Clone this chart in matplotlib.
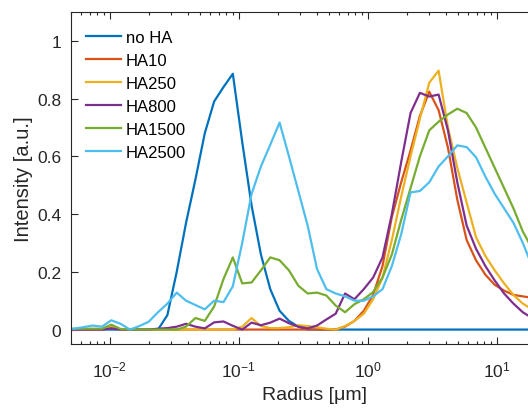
import matplotlib
matplotlib.use("Agg")
import matplotlib.pyplot as plt
from matplotlib.ticker import LogLocator, NullFormatter

plt.rcParams['font.family'] = ['Liberation Sans', 'DejaVu Sans']
plt.rcParams['mathtext.fontset'] = 'custom'
plt.rcParams['mathtext.rm'] = 'Liberation Sans'
plt.rcParams['mathtext.it'] = 'Liberation Sans'

# size classes (radius in um), shared by every sample
radius = [0.00445, 0.00526, 0.00621, 0.00735, 0.00868, 0.01026, 0.01212, 0.01432, 0.01692, 0.0200,
          0.02363, 0.02793, 0.0330, 0.03899, 0.04607, 0.05445, 0.06434, 0.07603, 0.08983, 0.1062,
          0.1255, 0.1483, 0.1752, 0.2070, 0.2446, 0.2891, 0.3416, 0.4036, 0.4770, 0.5636,
          0.6660, 0.7870, 0.9300, 1.099, 1.299, 1.535, 1.813, 2.143, 2.532, 2.992,
          3.536, 4.178, 4.937, 5.834, 6.894, 8.147, 9.627, 11.38, 13.44, 15.89,
          18.77]

no_ha = [0, 0, 0, 0, 0, 0, 0, 0, 0, 0,
         0, 0.05, 0.2, 0.37, 0.52, 0.68, 0.79, 0.84, 0.886, 0.65,
         0.43, 0.26, 0.14, 0.065, 0.03, 0.01, 0, 0, 0, 0,
         0, 0, 0, 0, 0, 0, 0, 0, 0, 0,
         0, 0, 0, 0, 0, 0, 0, 0, 0, 0,
         0]
ha10 = [0, 0, 0, 0, 0, 0.008, 0, 0, 0, 0,
        0, 0, 0, 0, 0, 0, 0, 0, 0, 0,
        0, 0, 0, 0, 0, 0, 0, 0, 0, 0,
        0.01, 0.03, 0.065, 0.12, 0.22, 0.39, 0.51, 0.62, 0.74, 0.824,
        0.76, 0.63, 0.45, 0.31, 0.24, 0.19, 0.155, 0.135, 0.12, 0.115,
        0.11]
ha250 = [0, 0, 0, 0, 0, 0.012, 0, 0, 0, 0,
         0, 0, 0, 0, 0, 0, 0, 0, 0, 0.01,
         0.04, 0.012, 0.005, 0.005, 0.008, 0.015, 0.012, 0.008, 0.003, 0,
         0.012, 0.03, 0.055, 0.105, 0.18, 0.31, 0.46, 0.60, 0.73, 0.855,
         0.897, 0.70, 0.56, 0.44, 0.32, 0.255, 0.205, 0.16, 0.12, 0.09,
         0.07]
ha800 = [0, 0, 0, 0, 0, 0.004, 0, 0, 0, 0,
         0.003, 0.005, 0.01, 0.02, 0.01, 0.004, 0.025, 0.028, 0.013, 0,
         0.024, 0.015, 0.024, 0.038, 0.022, 0.01, 0.004, 0.014, 0.035, 0.055,
         0.125, 0.105, 0.14, 0.18, 0.25, 0.40, 0.58, 0.75, 0.82, 0.807,
         0.814, 0.69, 0.51, 0.36, 0.28, 0.22, 0.17, 0.125, 0.09, 0.06,
         0.04]
ha1500 = [0, 0.003, 0.003, 0.003, 0.003, 0.017, 0.002, 0, 0, 0,
          0, 0, 0, 0.01, 0.04, 0.03, 0.08, 0.175, 0.25, 0.16,
          0.163, 0.205, 0.25, 0.24, 0.205, 0.152, 0.125, 0.128, 0.118, 0.083,
          0.06, 0.088, 0.105, 0.13, 0.18, 0.26, 0.38, 0.49, 0.60, 0.69,
          0.72, 0.745, 0.765, 0.75, 0.70, 0.63, 0.56, 0.49, 0.42, 0.34,
          0.28]
ha2500 = [0, 0.003, 0.008, 0.014, 0.01, 0.032, 0.02, 0, 0.012, 0.027,
          0.06, 0.09, 0.128, 0.10, 0.085, 0.07, 0.10, 0.095, 0.15, 0.30,
          0.47, 0.565, 0.64, 0.717, 0.60, 0.48, 0.36, 0.21, 0.14, 0.125,
          0.115, 0.10, 0.10, 0.115, 0.14, 0.22, 0.33, 0.475, 0.48, 0.51,
          0.565, 0.60, 0.638, 0.632, 0.597, 0.53, 0.47, 0.42, 0.37, 0.30,
          0.22]

labels = ['no HA', 'HA10', 'HA250', 'HA800', 'HA1500', 'HA2500']
colors = ['#0072BD', '#D95319', '#EDB120', '#7E2F8E', '#77AC30', '#4DBEEE']
series = [no_ha, ha10, ha250, ha800, ha1500, ha2500]

fig = plt.figure(figsize=(5.28, 4.10), dpi=100)
ax = fig.add_axes([71 / 528, 65 / 410, 487.4 / 528, 332 / 410])

for y, c, lab in zip(series, colors, labels):
    ax.plot(radius, y, color=c, linewidth=1.6, label=lab)

ax.set_xscale('log')
ax.set_xlim(0.005, 30)
ax.set_ylim(-0.05, 1.1)
ax.set_yticks([0, 0.2, 0.4, 0.6, 0.8, 1])
ax.set_yticklabels(['0', '0.2', '0.4', '0.6', '0.8', '1'])
ax.xaxis.set_major_locator(LogLocator(base=10, numticks=10))
ax.xaxis.set_minor_locator(LogLocator(base=10, subs=range(2, 10), numticks=20))
ax.xaxis.set_minor_formatter(NullFormatter())

axcol = '#262626'
for s in ax.spines.values():
    s.set_color(axcol)
    s.set_linewidth(0.8)
ax.tick_params(which='both', direction='in', top=True, right=True, colors=axcol,
               labelsize=12.5, width=0.8)
ax.tick_params(which='major', length=5)
ax.tick_params(which='minor', length=2.5)
ax.tick_params(axis='x', pad=11)
ax.tick_params(axis='y', pad=7)

ax.set_xlabel('Radius [\u03bcm]', fontsize=14, color=axcol, labelpad=5)
ax.set_ylabel('Intensity [a.u.]', fontsize=14.5, color=axcol, labelpad=3)

leg = ax.legend(loc='upper left', bbox_to_anchor=(15 / 487.4, 1 - 18 / 332),
                frameon=False, fontsize=12, handlelength=2.1, handletextpad=0.3,
                labelspacing=0.48, borderpad=0, borderaxespad=0)
for t in leg.get_texts():
    t.set_color('#000000')

fig.savefig('out.png', dpi=100)
